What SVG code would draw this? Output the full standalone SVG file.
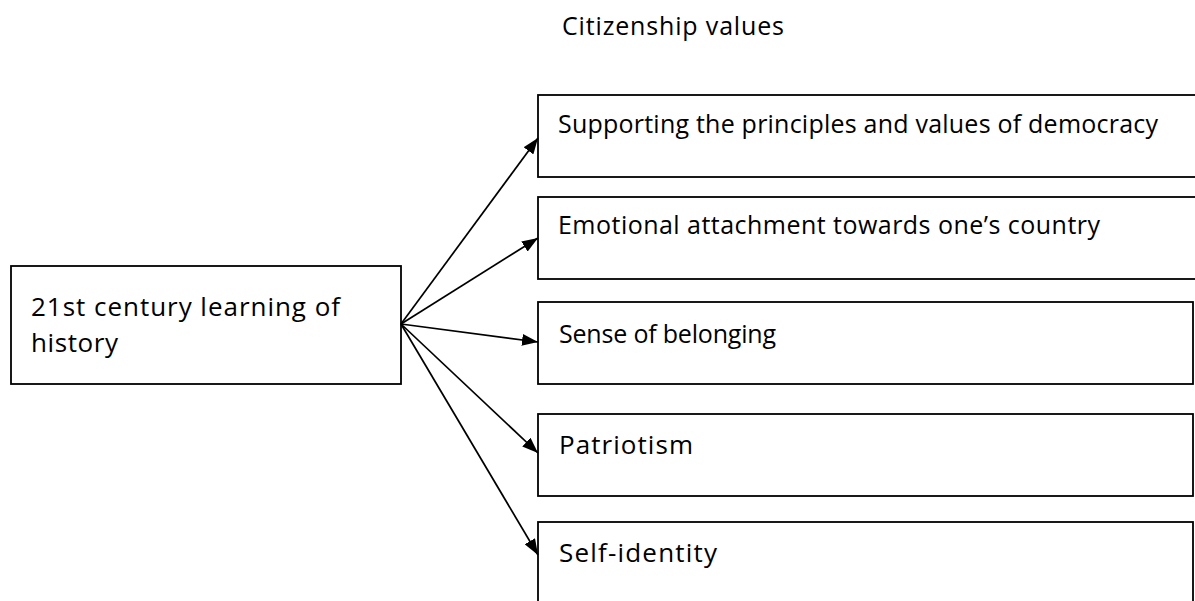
<svg xmlns="http://www.w3.org/2000/svg" width="1195" height="601" viewBox="0 0 1195 601">
<style>
.box{fill:#fff;stroke:#000;stroke-width:1.8}
.t{font-family:"Open Sans","Noto Sans",sans-serif;font-size:25px;fill:#000}
.big{font-size:26px}
.mid{font-size:26px}
.c{stroke:#000;stroke-width:1.7;fill:none}
</style>
<defs>
<marker id="ah" viewBox="0 0 16 12" refX="16" refY="6" markerWidth="16" markerHeight="12" markerUnits="userSpaceOnUse" orient="auto">
<path d="M0,0 L16,6 L0,12 z" fill="#000"/>
</marker>
</defs>
<rect width="1195" height="601" fill="#fff"/>
<text class="t" x="562" y="35" textLength="222">Citizenship values</text>
<g id="source">
<rect class="box" x="11" y="266" width="390" height="118"/>
<text class="t big" x="31" y="316" textLength="309">21st century learning of</text>
<text class="t big" x="31" y="352" textLength="87">history</text>
</g>
<g id="n1">
<rect class="box" x="538" y="95" width="700" height="82"/>
<text class="t" x="558" y="133" textLength="600">Supporting the principles and values of democracy</text>
</g>
<g id="n2">
<rect class="box" x="538" y="197" width="700" height="82"/>
<text class="t" x="558" y="234" textLength="542">Emotional attachment towards one’s country</text>
</g>
<g id="n3">
<rect class="box" x="538" y="302" width="655" height="82"/>
<text class="t" x="559" y="343" textLength="217">Sense of belonging</text>
</g>
<g id="n4">
<rect class="box" x="538" y="414" width="655" height="82"/>
<text class="t mid" x="559" y="454" textLength="134">Patriotism</text>
</g>
<g id="n5">
<rect class="box" x="538" y="522" width="655" height="100"/>
<text class="t mid" x="559" y="562" textLength="158">Self-identity</text>
</g>
<g id="connectors">
<line class="c" x1="401" y1="324" x2="538" y2="138" marker-end="url(#ah)"/>
<line class="c" x1="401" y1="324" x2="538" y2="238" marker-end="url(#ah)"/>
<line class="c" x1="401" y1="324" x2="538" y2="342" marker-end="url(#ah)"/>
<line class="c" x1="401" y1="324" x2="538" y2="453" marker-end="url(#ah)"/>
<line class="c" x1="401" y1="324" x2="538" y2="555" marker-end="url(#ah)"/>
</g>
</svg>
